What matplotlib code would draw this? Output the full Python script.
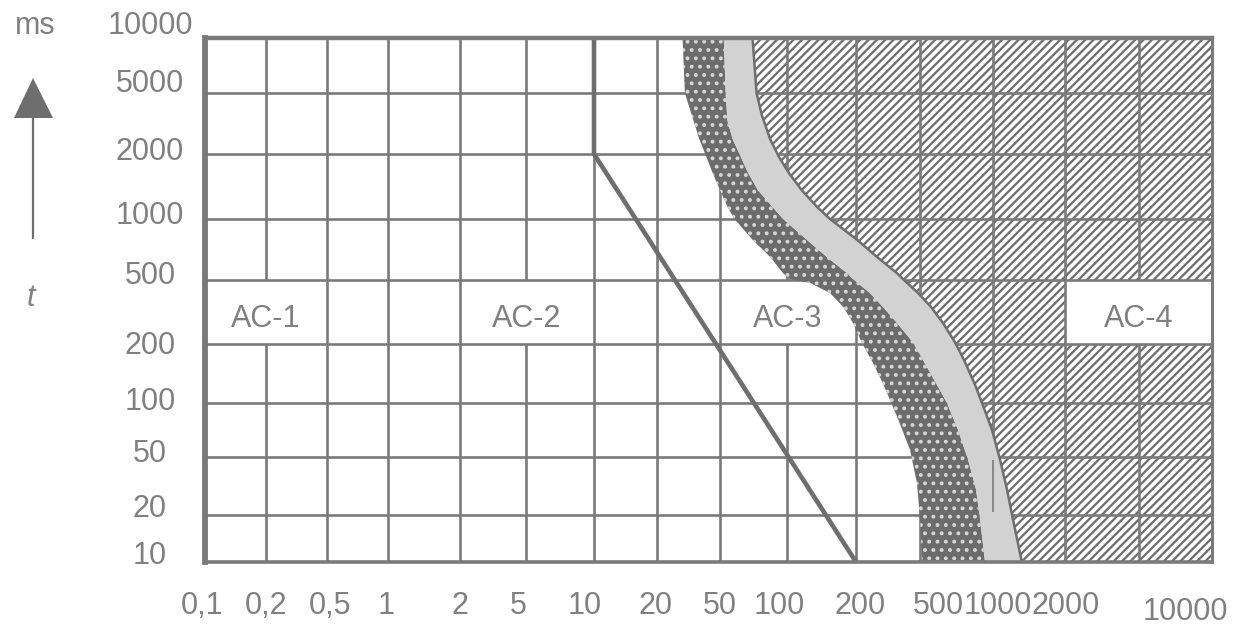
import numpy as np
import matplotlib
matplotlib.use("Agg")
import matplotlib.pyplot as plt
import matplotlib.patches as mpatches
import matplotlib.transforms as mtransforms

# time / current zones (AC-1 ... AC-4)

plt.rcParams['font.family'] = ['Liberation Sans', 'DejaVu Sans']
plt.rcParams['hatch.linewidth'] = 1.6

GRAY = '#7a7a7a'
TXT = '#808080'

# axis ticks, current in mA and time in ms
x_ticks = [0.1, 0.2, 0.5, 1, 2, 5, 10, 20, 50, 100, 200, 500, 1000, 2000, 5000, 10000]
x_labels = ['0,1', '0,2', '0,5', '1', '2', '5', '10', '20', '50', '100', '200',
            '500', '1000', '2000', '', '10000']
y_ticks = [10, 20, 50, 100, 200, 500, 1000, 2000, 5000, 10000]
y_labels = ['10', '20', '50', '100', '200', '500', '1000', '2000', '5000', '10000']

# zone names and the cells their labels sit in
zone_names = ['AC-1', 'AC-2', 'AC-3', 'AC-4']
zone_ma_lo = [0.1, 2, 50, 2000]
zone_ma_hi = [0.5, 10, 200, 10000]
zone_ms_lo = 200
zone_ms_hi = 500

# line b
line_b_ma = [10, 10, 200]
line_b_ms = [10000, 2000, 10]

# curve c1 (left edge of dark band)
c1_ma = [29, 30, 34, 37, 41, 45, 50, 54, 58, 70, 84, 96, 103, 126, 154, 176, 194, 218,
         255, 294, 360, 433, 479, 500, 510]
c1_ms = [10000, 5000, 3300, 2500, 1940, 1630, 1360, 1140, 1000, 790, 650, 540, 505, 480,
         415, 340, 270, 203, 160, 126, 84, 55, 33, 19, 10]

# curve c2 (dark band / light band)
c2_ma = [52, 53, 54, 57, 62, 67, 74, 86, 96, 122, 149, 183, 194, 244, 294, 360, 452, 514,
         587, 646, 717, 789, 851, 884, 927]
c2_ms = [10000, 5000, 3300, 2500, 1940, 1630, 1360, 1140, 1000, 790, 650, 540, 505, 415,
         340, 270, 205, 166, 124, 100, 71, 48, 30, 19, 10]

# curve c3 (light band / AC-4)
c3_ma = [70, 73, 77, 84, 92, 102, 116, 135, 154, 203, 270, 360, 392, 486, 555, 622, 697,
         759, 843, 901, 990, 1070, 1144, 1210, 1320]
c3_ms = [10000, 5000, 3600, 2500, 1940, 1630, 1360, 1140, 1000, 790, 650, 540, 505, 415,
         340, 270, 205, 166, 124, 100, 71, 48, 30, 19, 10]

# grid line seen through the light band
stub_ma = 1000
stub_ms = [21, 48]

# layout: the grid is not evenly spaced, pixel offsets of every grid line
X_GRID_PX = [0, 61, 122, 183, 255, 321, 389, 452, 515, 582, 651, 715, 788, 860, 934, 1007]
Y_GRID_PX = [0, 47, 105, 159, 218, 282, 343, 408, 469, 524]
x_lab_dx = [-3, 0, 3, -2, 0, -8, -9, -2, 0, -8, 4, 18, 5, 1, 0, -27]
y_lab_dy = [6, 6, 3, 1, -2, 4, 3, 2, 9, 12]


def piecewise_log(ticks, px):
    lt = np.log10(ticks)
    px = np.asarray(px, float)

    def fwd(v):
        v = np.clip(np.asarray(v, float), 1e-9, None)
        return np.interp(np.log10(v), lt, px)

    def inv(p):
        return 10 ** np.interp(np.asarray(p, float), px, lt)
    return fwd, inv


fx, ix = piecewise_log(x_ticks, X_GRID_PX)
fy, iy = piecewise_log(y_ticks, Y_GRID_PX)

W, H = 1237, 630
fig = plt.figure(figsize=(W / 100, H / 100), dpi=100)
ax = fig.add_axes([205 / W, (H - 562) / H, (1212 - 205) / W, (562 - 38) / H])
ax.set_xscale('function', functions=(fx, ix))
ax.set_yscale('function', functions=(fy, iy))
ax.set_xlim(x_ticks[0], x_ticks[-1])
ax.set_ylim(y_ticks[0], y_ticks[-1])
ax.set_xticks([])
ax.set_yticks([])
ax.minorticks_off()

# AC-4 hatched area
hatch_pts = list(zip(c3_ma, c3_ms)) + [(x_ticks[-1], y_ticks[0]), (x_ticks[-1], y_ticks[-1])]
ax.add_patch(mpatches.Polygon(hatch_pts, closed=True, facecolor='white', edgecolor='#6c6c6c',
                              hatch='////', lw=0, zorder=1))

# white cells behind the zone labels
for lo, hi in zip(zone_ma_lo, zone_ma_hi):
    ax.add_patch(mpatches.Rectangle((lo, zone_ms_lo), hi - lo, zone_ms_hi - zone_ms_lo,
                                    facecolor='white', edgecolor='none', zorder=1.5))

# grid, skipping lines that run through a label cell
for v in x_ticks[1:-1]:
    inside = any(lo < v < hi for lo, hi in zip(zone_ma_lo, zone_ma_hi))
    if inside:
        ax.vlines(v, y_ticks[0], zone_ms_lo, color=GRAY, lw=1.9, zorder=2)
        ax.vlines(v, zone_ms_hi, y_ticks[-1], color=GRAY, lw=1.9, zorder=2)
    else:
        ax.vlines(v, y_ticks[0], y_ticks[-1], color=GRAY, lw=1.9, zorder=2)
ax.hlines(y_ticks[1:-1], x_ticks[0], x_ticks[-1], color=GRAY, lw=1.9, zorder=2)

# dark and light bands
dark = list(zip(c1_ma, c1_ms)) + list(zip(c2_ma, c2_ms))[::-1]
ax.add_patch(mpatches.Polygon(dark, closed=True, facecolor='#6c6c6c', edgecolor='#d6d6d6',
                              hatch='..', lw=0, zorder=3))
light = list(zip(c2_ma, c2_ms)) + list(zip(c3_ma, c3_ms))[::-1]
ax.add_patch(mpatches.Polygon(light, closed=True, facecolor='#d2d2d2', edgecolor='none',
                              lw=0, zorder=3.1))
ax.plot(c3_ma, c3_ms, color='#6e6e6e', lw=1.8, zorder=3.2)
ax.vlines(stub_ma, stub_ms[0], stub_ms[1], color=GRAY, lw=1.2, zorder=3.3)

# line b
ax.plot(line_b_ma, line_b_ms, color='#6e6e6e', lw=3.3, zorder=4, solid_capstyle='butt')

for side, lw in zip(['left', 'top', 'bottom', 'right'], [4.2, 3.2, 2.6, 2.2]):
    ax.spines[side].set_color(GRAY)
    ax.spines[side].set_linewidth(lw)
    ax.spines[side].set_zorder(5)

FS = 22

# tick labels
for v, lab, dx in zip(x_ticks, x_labels, x_lab_dx):
    dy = -50 if v == x_ticks[-1] else -44
    tr = mtransforms.offset_copy(ax.get_xaxis_transform(), fig=fig, x=dx, y=dy, units='dots')
    ax.text(v, 0, lab, transform=tr, ha='center', va='center', fontsize=FS, color=TXT,
            clip_on=False)
for v, lab, dy in zip(y_ticks, y_labels, y_lab_dy):
    tr = mtransforms.offset_copy(ax.get_yaxis_transform(), fig=fig, x=-55, y=dy, units='dots')
    ax.text(0, v, lab, transform=tr, ha='center', va='center', fontsize=FS, color=TXT,
            clip_on=False)

# zone labels
for name, lo, hi in zip(zone_names, zone_ma_lo, zone_ma_hi):
    mx = ix((fx(lo) + fx(hi)) / 2)
    my = iy((fy(zone_ms_lo) + fy(zone_ms_hi)) / 2)
    tr = mtransforms.offset_copy(ax.transData, fig=fig, x=0, y=-7, units='dots')
    ax.text(mx, my, name, transform=tr, ha='center', va='center', fontsize=FS, color=TXT,
            zorder=6)

# unit, axis arrow and symbol on the left
fig.text(35 / W, 1 - 26 / H, 'ms', ha='center', va='center', fontsize=FS, color=TXT)
fig.add_artist(mpatches.Polygon([(33 / W, 1 - 78 / H), (14 / W, 1 - 118 / H), (53 / W, 1 - 118 / H)],
                                closed=True, transform=fig.transFigure, facecolor='#6e6e6e',
                                edgecolor='none'))
fig.add_artist(plt.Line2D([33 / W, 33 / W], [1 - 118 / H, 1 - 238 / H], transform=fig.transFigure,
                          color='#6e6e6e', lw=1.6))
fig.text(31 / W, 1 - 298 / H, 't', ha='center', va='center', fontsize=FS, color=TXT,
         style='italic')

fig.savefig('out.png', dpi=100)
